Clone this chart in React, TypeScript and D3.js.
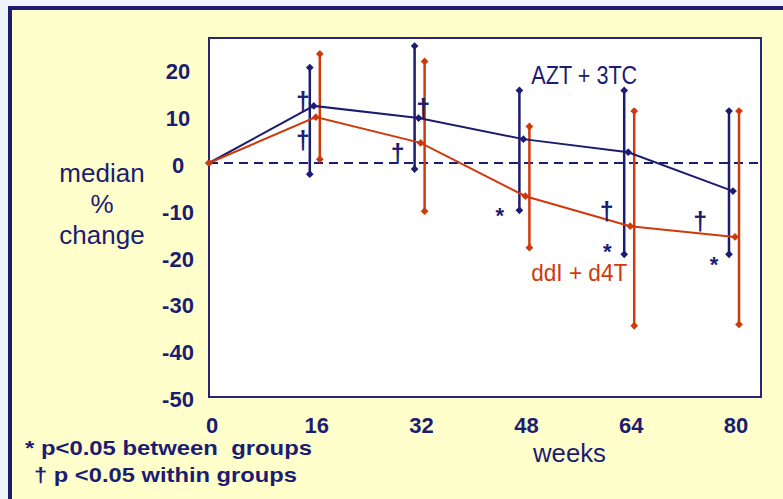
import React from "react";
import * as d3 from "d3";

const weeks = [0, 16, 32, 48, 64, 80];
const aztMedian = [0, 12.2, 9.6, 5.1, 2.3, -6.0];
const aztLow = [null, -2.4, -1.3, -10.1, -19.5, -19.5];
const aztHigh = [null, 20.4, 25.0, 15.5, 15.5, 11.1];
const ddiMedian = [0, 9.8, 4.3, -7.1, -13.5, -15.8];
const ddiLow = [null, 0.8, -10.3, -18.1, -34.8, -34.5];
const ddiHigh = [null, 23.3, 21.7, 7.8, 11.1, 11.1];

const yTicks = [20, 10, 0, -10, -20, -30, -40, -50];
const xTicks = [0, 16, 32, 48, 64, 80];

// significance markers: [week, value]
const daggers = [
  [14.35, 13.0],
  [14.35, 4.7],
  [32.7, 11.5],
  [28.8, 1.9],
  [60.7, -10.5],
  [75.0, -12.6],
];
const asterisks = [
  [44.4, -10.3],
  [60.8, -17.9],
  [77.1, -20.7],
];

const NAVY = "#1c1c70";
const RED = "#cf3a0b";
const YELLOW = "#ffffcc";
const BG = "#eef5ff";
const FONT = "'Liberation Sans', Arial, sans-serif";

export default function App() {
  const W = 783;
  const H = 499;
  const plot = { left: 209, top: 38, right: 761, bottom: 397 };
  const x = d3.scaleLinear().domain([0, 80]).range([209, 733]);
  const y = d3.scaleLinear().domain([0, -50]).range([163, 397]);

  const diamond = d3.symbol(d3.symbolSquare, 30)();

  const series = [
    { med: aztMedian, lo: aztLow, hi: aztHigh, color: NAVY, barOff: -4, ptOff: 0 },
    { med: ddiMedian, lo: ddiLow, hi: ddiHigh, color: RED, barOff: 6, ptOff: 2 },
  ];

  const line = d3
    .line<[number, number]>()
    .x((d) => d[0])
    .y((d) => d[1]);

  const Diamond = ({ cx, cy, color }: { cx: number; cy: number; color: string }) => (
    <path d={diamond!} transform={`translate(${cx},${cy}) rotate(45)`} fill={color} />
  );

  return (
    <svg
      width={W}
      height={H}
      style={{ position: "fixed", left: 0, top: 0, display: "block" }}
      fontFamily={FONT}
    >
      <rect x={0} y={0} width={W} height={H} fill={BG} />
      <rect x={10} y={8} width={820} height={540} fill={YELLOW} stroke={NAVY} strokeWidth={4} />
      <rect
        x={plot.left}
        y={plot.top}
        width={plot.right - plot.left}
        height={plot.bottom - plot.top}
        fill="#ffffff"
        stroke="#25257a"
        strokeWidth={2}
      />
      {/* zero dashed line */}
      <line
        x1={plot.left}
        x2={plot.right}
        y1={y(0)}
        y2={y(0)}
        stroke={NAVY}
        strokeWidth={2}
        strokeDasharray="9,6"
      />

      {/* error bars */}
      {series.map((s, si) =>
        weeks.map((w, i) => {
          if (s.lo[i] == null || s.hi[i] == null) return null;
          const bx = x(w) + s.barOff;
          return (
            <g key={`bar-${si}-${i}`}>
              <line
                x1={bx}
                x2={bx}
                y1={y(s.hi[i] as number)}
                y2={y(s.lo[i] as number)}
                stroke={s.color}
                strokeWidth={2.5}
              />
              <Diamond cx={bx} cy={y(s.hi[i] as number)} color={s.color} />
              <Diamond cx={bx} cy={y(s.lo[i] as number)} color={s.color} />
            </g>
          );
        })
      )}

      {/* median lines */}
      {series.map((s, si) => {
        const pts = weeks.map((w, i) => [x(w) + (i === 0 ? 0 : s.ptOff), y(s.med[i])] as [number, number]);
        return (
          <g key={`line-${si}`}>
            <path d={line(pts)!} fill="none" stroke={s.color} strokeWidth={2} />
            {pts.map((p, i) => (
              <Diamond key={i} cx={p[0]} cy={p[1]} color={s.color} />
            ))}
          </g>
        );
      })}

      {/* significance markers */}
      {daggers.map((d, i) => (
        <text
          key={`dg-${i}`}
          x={x(d[0])}
          y={y(d[1]) + 8}
          fill={NAVY}
          fontSize={25}
          fontWeight="bold"
          textAnchor="middle"
        >
          †
        </text>
      ))}
      {asterisks.map((d, i) => (
        <text
          key={`as-${i}`}
          x={x(d[0])}
          y={y(d[1]) + 12}
          fill={NAVY}
          fontSize={22}
          fontWeight="bold"
          textAnchor="middle"
        >
          *
        </text>
      ))}

      {/* series labels */}
      <text x={x(49.2)} y={y(16.9)} fill={NAVY} fontSize={26} textLength={106} lengthAdjust="spacingAndGlyphs">
        AZT + 3TC
      </text>
      <text x={x(49.2)} y={y(-25.3)} fill={RED} fontSize={24} textLength={96} lengthAdjust="spacingAndGlyphs">
        ddI + d4T
      </text>

      {/* y tick labels */}
      {yTicks.map((v) => (
        <text
          key={`yt-${v}`}
          x={178}
          y={y(v) + 10}
          fill={NAVY}
          fontSize={22}
          fontWeight="bold"
          textAnchor="middle"
        >
          {v}
        </text>
      ))}

      {/* x tick labels */}
      {xTicks.map((v) => (
        <text
          key={`xt-${v}`}
          x={x(v) + 3}
          y={433}
          fill={NAVY}
          fontSize={22}
          fontWeight="bold"
          textAnchor="middle"
        >
          {v}
        </text>
      ))}

      {/* axis titles */}
      <text x={102} textAnchor="middle" fill={NAVY} fontSize={26}>
        <tspan x={102} y={181.7}>median</tspan>
        <tspan x={102} y={213}>%</tspan>
        <tspan x={102} y={244}>change</tspan>
      </text>
      <text x={533} y={461.5} fill={NAVY} fontSize={25} textLength={73} lengthAdjust="spacingAndGlyphs">
        weeks
      </text>

      {/* footnotes */}
      <text
        x={25}
        y={454.5}
        fill={NAVY}
        fontSize={21}
        fontWeight="bold"
        textLength={287}
        lengthAdjust="spacingAndGlyphs"
        style={{ whiteSpace: "pre" }}
      >
        {"* p<0.05 between  groups"}
      </text>
      <text
        x={34}
        y={482.3}
        fill={NAVY}
        fontSize={21}
        fontWeight="bold"
        textLength={263}
        lengthAdjust="spacingAndGlyphs"
      >
        {"† p <0.05 within groups"}
      </text>
    </svg>
  );
}
